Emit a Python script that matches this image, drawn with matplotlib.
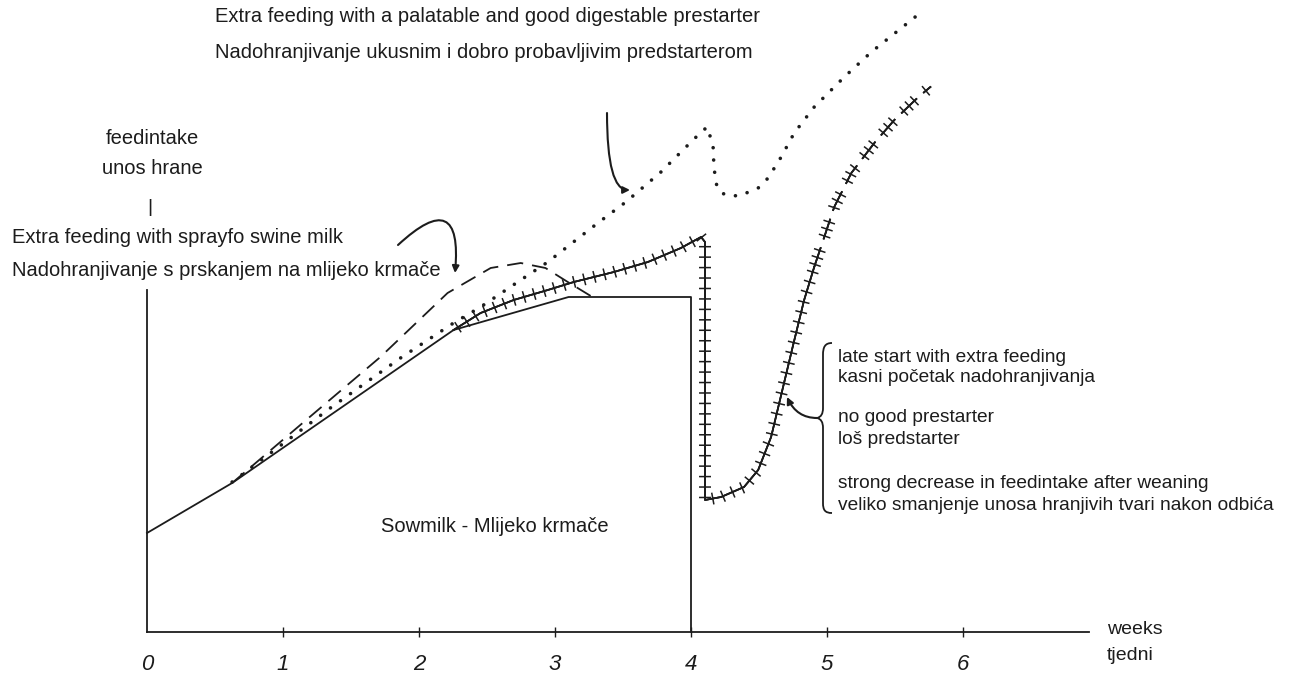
import numpy as np
import matplotlib
matplotlib.use('Agg')
import matplotlib.pyplot as plt
import matplotlib.patheffects as pe
from matplotlib.path import Path
from matplotlib.patches import PathPatch
from matplotlib.transforms import IdentityTransform

plt.rcParams['font.family'] = ['Liberation Sans', 'DejaVu Sans']

# weeks on x, feed intake (arbitrary units) on y
weeks = [0, 1, 2, 3, 4, 5, 6]
week_labels = ['0', '1', '2', '3', '4', '5', '6']

sowmilk_x = [0.0, 0.626, 2.254, 3.10, 4.0, 4.0]
sowmilk_y = [0.99, 1.49, 3.02, 3.35, 3.35, 0.0]

spray_x = [0.626, 1.127, 1.716, 2.21, 2.527, 2.748, 2.93, 3.094, 3.263]
spray_y = [1.49, 2.07, 2.75, 3.39, 3.64, 3.69, 3.64, 3.50, 3.36]

prestarter_x = [0.626, 1.348, 1.864, 2.254, 2.453, 2.748, 2.947, 3.315, 3.521,
                3.779, 4.022, 4.118, 4.162, 4.169, 4.192, 4.250, 4.354, 4.494,
                4.567, 4.663, 4.759, 4.906, 5.127, 5.326, 5.510, 5.694]
prestarter_y = [1.50, 2.24, 2.74, 3.09, 3.25, 3.52, 3.70, 4.09, 4.30,
                4.60, 4.93, 5.05, 4.87, 4.64, 4.44, 4.37, 4.36, 4.44,
                4.54, 4.75, 4.99, 5.25, 5.55, 5.80, 6.00, 6.20]

late_x = [2.254, 2.453, 2.696, 2.947, 3.138, 3.433, 3.683, 3.926, 4.074, 4.103,
          4.103, 4.221, 4.390, 4.494, 4.589, 4.663, 4.751, 4.832, 4.906,
          4.980, 5.053, 5.179, 5.348, 5.495, 5.672, 5.760]
late_y = [3.02, 3.19, 3.32, 3.42, 3.50, 3.60, 3.70, 3.84, 3.95, 3.90,
          1.32, 1.35, 1.45, 1.62, 1.95, 2.37, 2.87, 3.32, 3.65,
          3.95, 4.25, 4.59, 4.89, 5.12, 5.35, 5.45]
late_split = 18  # from here on the hatched line is drawn in short pieces

ink = '#1c1c1c'

fig = plt.figure(figsize=(12.97, 6.88), dpi=100)
ax = fig.add_axes([0, 0, 1, 1])
ax.set_xlim(-147 / 136, (1297 - 147) / 136)
ax.set_ylim(-0.56, 6.32)

# axes drawn through the origin
for side in ['top', 'right']:
    ax.spines[side].set_visible(False)
ax.spines['left'].set_position(('data', 0))
ax.spines['bottom'].set_position(('data', 0))
ax.spines['left'].set_bounds(0, 3.42)
ax.spines['bottom'].set_bounds(0, 6.93)
for side in ['left', 'bottom']:
    ax.spines[side].set_color(ink)
    ax.spines[side].set_linewidth(1.3)
ax.set_yticks([])
ax.set_xticks(weeks)
ax.set_xticklabels(week_labels, fontstyle='italic', fontsize=16, color=ink)
ax.tick_params(axis='x', direction='inout', length=7, width=1, color=ink, pad=12)
ax.xaxis.get_major_ticks()[0].tick1line.set_visible(False)

# sow milk
ax.plot(sowmilk_x, sowmilk_y, color=ink, lw=1.3)

# spray dried swine milk
ax.plot(spray_x, spray_y, color=ink, lw=1.3, linestyle=(0, (9, 5)))

# good prestarter
ax.plot(prestarter_x, prestarter_y, color=ink, lw=2.6,
        linestyle=(0, (0.01, 3.4)), dash_capstyle='round')


# late start / poor prestarter: line with cross ticks
def ticked(spacing, length):
    return [pe.Normal(),
            pe.withTickedStroke(angle=90, spacing=spacing, length=length, linewidth=1.1),
            pe.withTickedStroke(angle=-90, spacing=spacing, length=length, linewidth=1.1)]


ax.plot(late_x[:late_split + 1], late_y[:late_split + 1], color=ink, lw=1.2,
        path_effects=ticked(7.5, 0.5))


def pieces(xs, ys, on, off):
    pts = ax.transData.transform(np.column_stack([xs, ys]))
    s = np.concatenate([[0], np.cumsum(np.hypot(*np.diff(pts, axis=0).T))])
    inv = ax.transData.inverted()
    out = []
    start = 0.0
    while start < s[-1]:
        end = min(start + on, s[-1])
        t = np.linspace(start, end, 8)
        seg = np.column_stack([np.interp(t, s, pts[:, 0]), np.interp(t, s, pts[:, 1])])
        out.append(inv.transform(seg))
        start = end + off
    return out


for seg in pieces(late_x[late_split:], late_y[late_split:], 20, 10):
    ax.plot(seg[:, 0], seg[:, 1], color=ink, lw=1.2, path_effects=ticked(3.8, 1.0))


# texts, placed in image pixels (origin top left)
def fp(x, y):
    return (x / 1297, 1 - y / 688)


def label(x, y, s, size=14.5, **kw):
    fig.text(*fp(x, y), s, ha='left', va='center', fontsize=size, color=ink, **kw)


label(215, 17, 'Extra feeding with a palatable and good digestable prestarter')
label(215, 53, 'Nadohranjivanje ukusnim i dobro probavljivim predstarterom')
fig.text(*fp(152, 139), 'feedintake', ha='center', va='center', fontsize=14.5, color=ink)
fig.text(*fp(152, 168), 'unos hrane', ha='center', va='center', fontsize=14.5, color=ink)
fig.text(*fp(150, 207), '|', ha='center', va='center', fontsize=14, color=ink)
label(12, 237, 'Extra feeding with sprayfo swine milk')
label(12, 270, 'Nadohranjivanje s prskanjem na mlijeko krmače')
label(381, 527, 'Sowmilk - Mlijeko krmače')
label(838, 357, 'late start with extra feeding', 13.8)
label(838, 378, 'kasni početak nadohranjivanja', 13.8)
label(838, 418, 'no good prestarter', 13.8)
label(838, 439, 'loš predstarter', 13.8)
label(838, 483, 'strong decrease in feedintake after weaning', 13.8)
label(838, 506, 'veliko smanjenje unosa hranjivih tvari nakon odbića', 13.8)
label(1107, 630, 'weeks', 14)
label(1107, 656, 'tjedni', 14)

# brace in front of the right-hand notes
H = 688
brace = [(832, 343), (825, 343), (823, 347), (823, 355), (823, 408),
         (823, 414), (821, 417), (817, 418), (821, 419), (823, 422), (823, 428),
         (823, 503), (823, 510), (825, 513), (832, 513)]
codes = [Path.MOVETO, Path.CURVE4, Path.CURVE4, Path.CURVE4, Path.LINETO,
         Path.CURVE4, Path.CURVE4, Path.CURVE4, Path.CURVE4, Path.CURVE4, Path.CURVE4,
         Path.LINETO, Path.CURVE4, Path.CURVE4, Path.CURVE4]
bpath = Path([(x, H - y) for x, y in brace], codes)
fig.patches.append(PathPatch(bpath, fill=False, lw=1.3, edgecolor=ink,
                             transform=IdentityTransform(), figure=fig))

# curved pointer arrows
arrow = dict(arrowstyle='-|>', color=ink, lw=1.5, mutation_scale=10,
             shrinkA=0, shrinkB=0)
ax.annotate('', xy=(455, H - 273), xytext=(398, H - 245), xycoords='figure pixels',
            textcoords='figure pixels',
            arrowprops=dict(arrow, connectionstyle='arc3,rad=-1.3'))
ax.annotate('', xy=(630, H - 190), xytext=(607, H - 113), xycoords='figure pixels',
            textcoords='figure pixels',
            arrowprops=dict(arrow, connectionstyle='angle3,angleA=90,angleB=0'))
ax.annotate('', xy=(787, H - 397), xytext=(817, H - 418), xycoords='figure pixels',
            textcoords='figure pixels',
            arrowprops=dict(arrow, connectionstyle='angle3,angleA=0,angleB=115'))

fig.savefig('out.png', dpi=100)
